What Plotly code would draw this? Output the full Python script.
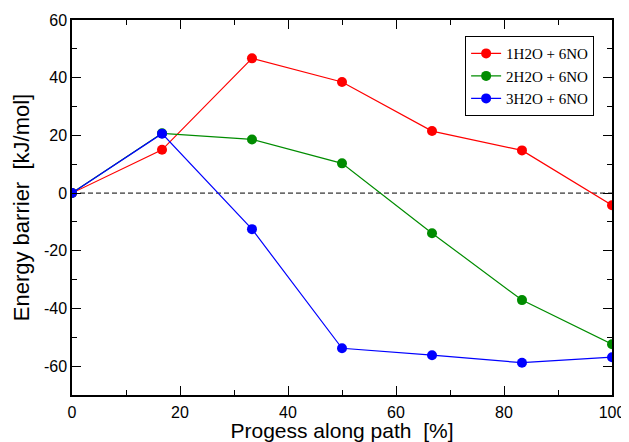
import plotly.graph_objects as go

progress = [0, 16.67, 33.33, 50, 66.67, 83.33, 100]
names = ["1H2O + 6NO", "2H2O + 6NO", "3H2O + 6NO"]
colors = ["#ff0000", "#008c00", "#0000ff"]
e_1h2o = [0, 15.0, 46.7, 38.5, 21.5, 14.8, -4.2]
e_2h2o = [0, 20.7, 18.6, 10.3, -13.9, -37.1, -52.4]
e_3h2o = [0, 20.6, -12.5, -53.8, -56.2, -58.8, -56.9]
series = [e_1h2o, e_2h2o, e_3h2o]

x_ticks = [0, 20, 40, 60, 80, 100]
x_ticklabels = ["0", "20", "40", "60", "80", "100"]
y_ticks = [-60, -40, -20, 0, 20, 40, 60]
y_ticklabels = ["-60", "-40", "-20", "0", "20", "40", "60"]

fig = go.Figure()
for name, col, ys in zip(names, colors, series):
    fig.add_trace(go.Scatter(
        x=progress, y=ys, name=name, mode="lines+markers",
        line=dict(color=col, width=1.2),
        marker=dict(color=col, size=10),
    ))

fig.add_hline(y=0, line=dict(color="black", width=1, dash="5px,3px"), layer="below")

sans = "Liberation Sans, Arial, sans-serif"
axis_common = dict(
    showline=True, linecolor="black", linewidth=1.5, mirror="allticks",
    ticks="inside", ticklen=9, tickwidth=1, tickcolor="black",
    showgrid=False, zeroline=False, automargin=False,
    tickfont=dict(family=sans, size=16, color="black"),
    minor=dict(ticks="inside", ticklen=5, tickwidth=1, tickcolor="black", dtick=10, showgrid=False),
    tickmode="array",
)

fig.update_xaxes(range=[0, 100], tickvals=x_ticks, ticktext=x_ticklabels, ticklabelstandoff=2,
                 title=dict(text="Progess along path\u00a0\u00a0[%]", standoff=4,
                            font=dict(family=sans, size=21, color="black")),
                 **axis_common)
fig.update_yaxes(range=[-70, 60], tickvals=y_ticks, ticktext=y_ticklabels,
                 title=dict(text="Energy barrier\u00a0\u00a0[kJ/mol]", standoff=8,
                            font=dict(family=sans, size=22, color="black")),
                 **axis_common)

# the page has an 8px body margin, so the figure is drawn at (8, 8)
fig.update_layout(
    width=621, height=434,
    margin=dict(l=64, r=17, t=12, b=47),
    plot_bgcolor="white", paper_bgcolor="white",
    showlegend=True,
    legend=dict(x=0.728, y=0.957, xanchor="left", yanchor="top",
                bgcolor="white", bordercolor="black", borderwidth=1,
                font=dict(family="Liberation Serif, Times New Roman, serif", size=15, color="black"),
                tracegroupgap=0, itemwidth=30),
)

fig.write_html("out.html")
